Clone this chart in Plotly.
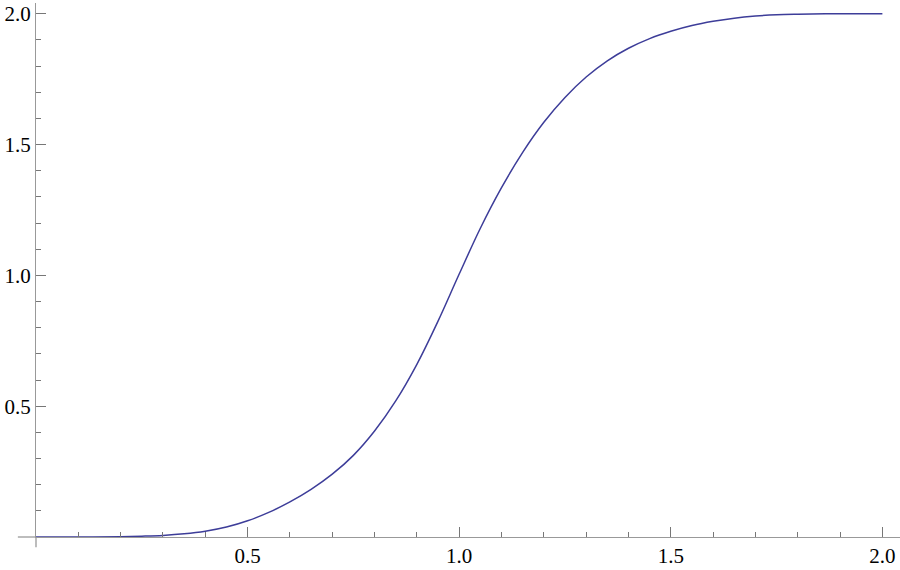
"""
Sigmoid-like curve rising from 0 to 2 (Mathematica-style axes).
"""

import plotly.graph_objects as go


# values
X_VALUES = [0.0, 0.1, 0.2, 0.25, 0.3, 0.35, 0.4, 0.45, 0.5, 0.55, 0.6, 0.65,
            0.7, 0.75, 0.8, 0.85, 0.9, 0.95, 1.0, 1.05, 1.1, 1.15, 1.2, 1.25,
            1.3, 1.35, 1.4, 1.45, 1.5, 1.55, 1.6, 1.65, 1.7, 1.75, 1.8, 1.9,
            2.0]
Y_VALUES = [0.0, 0.0, 0.001, 0.003, 0.006, 0.012, 0.022, 0.038, 0.062, 0.094,
            0.134, 0.182, 0.24, 0.312, 0.405, 0.52, 0.66, 0.825, 1.005, 1.18,
            1.335, 1.47, 1.585, 1.68, 1.758, 1.82, 1.868, 1.905, 1.933, 1.955,
            1.971, 1.983, 1.991, 1.996, 1.998, 2.0, 2.0]

TICK_VALS = [0.5, 1.0, 1.5, 2.0]
TICK_TEXT = ['0.5', '1.0', '1.5', '2.0']

LINE_COLOR = '#3d3d99'
AXIS_COLOR = '#999999'
TICK_COLOR = '#777777'
FONT = dict(family='Liberation Serif', size=21, color='black')


fig = go.Figure()

fig.add_trace(go.Scatter(
    x=X_VALUES,
    y=Y_VALUES,
    mode='lines',
    line=dict(color=LINE_COLOR, width=1.5, shape='spline', smoothing=1.0),
    hoverinfo='skip',
    showlegend=False,
))

axis_style = dict(
    automargin=False,
    showgrid=False,
    zeroline=False,
    showline=True,
    linecolor=AXIS_COLOR,
    linewidth=1.3,
    ticks='inside',
    ticklen=10,
    tickwidth=1,
    tickcolor=TICK_COLOR,
    tickvals=TICK_VALS,
    ticktext=TICK_TEXT,
    tickfont=FONT,
    minor=dict(dtick=0.1, tick0=0, ticks='inside', ticklen=5,
               tickwidth=1, tickcolor=TICK_COLOR),
)

fig.update_xaxes(range=[0, 2.0416], **axis_style)
fig.update_yaxes(range=[0, 2.041], **axis_style)

# axis lines run a little past the origin, as in Mathematica
fig.add_shape(type='line', xref='paper', yref='paper',
              x0=-0.021, x1=0, y0=0, y1=0,
              line=dict(color=AXIS_COLOR, width=1.3))
fig.add_shape(type='line', xref='paper', yref='paper',
              x0=0, x1=0, y0=-0.019, y1=0,
              line=dict(color=AXIS_COLOR, width=1.3))

fig.update_layout(
    width=900,
    height=570,
    margin=dict(l=36, r=0, t=3, b=33),
    plot_bgcolor='white',
    paper_bgcolor='white',
)

# drop the default 8px page margin so the figure fills the window
fig.write_html("out.html", config={'displayModeBar': False},
               post_script="document.body.style.margin='0';")
